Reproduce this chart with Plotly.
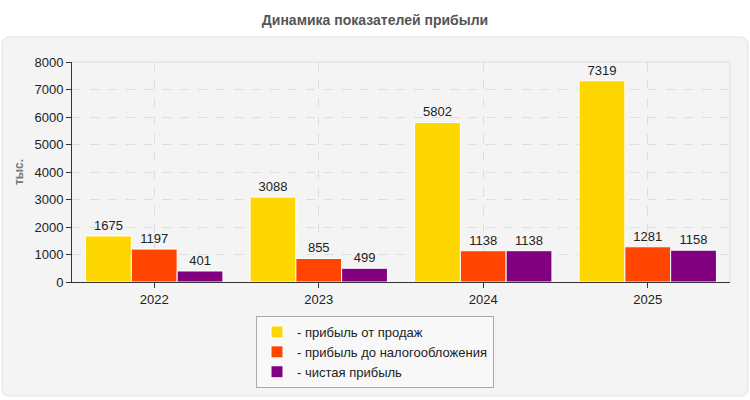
import plotly.graph_objects as go

years = ['2022', '2023', '2024', '2025']
sales_profit = [1675, 3088, 5802, 7319]
pretax_profit = [1197, 855, 1138, 1281]
net_profit = [401, 499, 1138, 1158]

series_names = ['- прибыль от продаж', '- прибыль до налогообложения', '- чистая прибыль']
colors = ['#FFD700', '#FF4500', '#800080']

# plot area in pixels: x 72..730, y 62..282
L, R, T, B = 72, 20, 62, 118
W, H = 750, 400
pw, ph = W - L - R, H - T - B


def px(x):
    return (x - L) / pw


def py(y):
    return (H - B - y) / ph


fig = go.Figure()
for name, vals, col in zip(series_names, [sales_profit, pretax_profit, net_profit], colors):
    fig.add_trace(go.Bar(
        x=years, y=vals, name=name,
        marker=dict(color=col, line=dict(color='white', width=1)),
        text=vals, textposition='outside', textangle=0,
        constraintext='none',
        textfont=dict(size=13, color='#222'),
        cliponaxis=False,
    ))

# rounded grey panel behind the chart
x0, x1, y0, y1 = px(2), px(748), py(396), py(37)
rx, ry = 8 / pw, 8 / ph
panel = (f'M {x0 + rx},{y1} L {x1 - rx},{y1} Q {x1},{y1} {x1},{y1 - ry} '
         f'L {x1},{y0 + ry} Q {x1},{y0} {x1 - rx},{y0} L {x0 + rx},{y0} '
         f'Q {x0},{y0} {x0},{y0 + ry} L {x0},{y1 - ry} Q {x0},{y1} {x0 + rx},{y1} Z')

fig.update_layout(
    width=W, height=H,
    margin=dict(l=L, r=R, t=T, b=B, autoexpand=False),
    paper_bgcolor='white',
    plot_bgcolor='#fcfcf4',
    font=dict(family='Liberation Sans, Arial, sans-serif', size=13, color='#222'),
    title=dict(text='<b>Динамика показателей прибыли</b>', x=0.5, xref='container',
               xanchor='center',
               y=1 - 20 / H, yref='container', yanchor='middle',
               font=dict(size=14, color='#555')),
    barmode='group', bargap=0.165, bargroupgap=0,
    uniformtext=dict(mode=False),
    showlegend=True,
    legend=dict(orientation='v', xref='paper', yref='paper',
                x=px(375), xanchor='center', y=py(316), yanchor='top',
                bgcolor='#f8f8f8', bordercolor='#aaa', borderwidth=1,
                font=dict(size=13, color='#222'), tracegroupgap=0,
                itemwidth=30),
    xaxis=dict(showline=True, linecolor='#333', linewidth=1,
               ticks='outside', ticklen=5, tickcolor='#333',
               showgrid=True, gridcolor='#ddd', griddash='dash',
               tickfont=dict(size=13)),
    yaxis=dict(range=[0, 8000], dtick=1000, showline=True, linecolor='#333',
               linewidth=1, ticks='outside', ticklen=5, tickcolor='#333',
               showgrid=True, gridcolor='#ddd', griddash='dash',
               zeroline=False, tickfont=dict(size=13),
               title=dict(text='<b>тыс.</b>', font=dict(size=12, color='#777'),
                          standoff=8)),
    shapes=[
        dict(type='path', path=panel, xref='paper', yref='paper',
             fillcolor='#f4f4f4', line=dict(color='#e2e2e2', width=1),
             layer='below'),
        dict(type='line', xref='paper', yref='paper', x0=0, x1=1, y0=1, y1=1,
             line=dict(color='#ddd', width=1)),
        dict(type='line', xref='paper', yref='paper', x0=1, x1=1, y0=0, y1=1,
             line=dict(color='#ddd', width=1)),
    ],
)

# page body has a default 8px margin; drop it so the figure sits at 0,0
fig.write_html('out.html', config={'displayModeBar': False},
               post_script="document.body.style.margin='0';")
